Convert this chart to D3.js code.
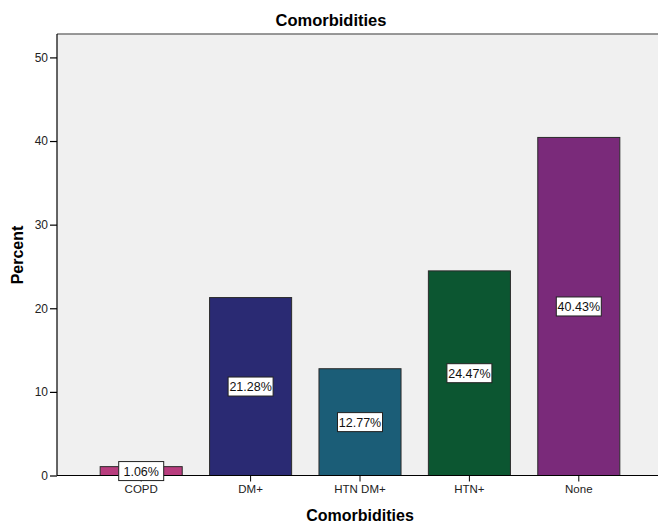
<!DOCTYPE html>
<html>
<head>
<meta charset="utf-8">
<script src="https://cdn.jsdelivr.net/npm/d3@7"></script>
<style>
  html, body { margin: 0; padding: 0; background: #fff; }
  svg { display: block; font-family: "Liberation Sans", Arial, sans-serif; }
</style>
</head>
<body>
<svg id="chart" width="658" height="525"></svg>
<script>
// Comorbidity categories and their share of patients (%)
const categories = ["COPD", "DM+", "HTN DM+", "HTN+", "None"];
const percents = [1.06, 21.28, 12.77, 24.47, 40.43];
const barColors = ["#b83d7e", "#2a2a73", "#1b5d77", "#0c5631", "#7a2a7a"];
const yTicks = [0, 10, 20, 30, 40, 50];

const svg = d3.select("#chart");
const plot = { left: 57, right: 658, top: 34, bottom: 475.5 };

const x = d3.scaleBand()
  .domain(categories)
  .range([86.5, 633.5])
  .paddingInner(0.25)
  .paddingOuter(0.125);

const y = d3.scaleLinear()
  .domain([0, 52.8])
  .range([plot.bottom, plot.top]);

// plot background
svg.append("rect")
  .attr("x", plot.left).attr("y", plot.top)
  .attr("width", plot.right - plot.left)
  .attr("height", plot.bottom - plot.top)
  .attr("fill", "#f0f0f0");

// top frame line
svg.append("line")
  .attr("x1", plot.left).attr("x2", plot.right)
  .attr("y1", plot.top).attr("y2", plot.top)
  .attr("stroke", "#777").attr("stroke-width", 1.5);

// bars
svg.append("g").selectAll("rect")
  .data(categories)
  .join("rect")
  .attr("x", d => x(d))
  .attr("width", x.bandwidth())
  .attr("y", (d, i) => y(percents[i]))
  .attr("height", (d, i) => y(0) - y(percents[i]))
  .attr("fill", (d, i) => barColors[i])
  .attr("stroke", "#2b2b2b")
  .attr("stroke-width", 1);

// y axis
const yAxis = svg.append("g")
  .attr("transform", `translate(${plot.left},0)`)
  .call(d3.axisLeft(y).tickValues(yTicks).tickSize(7).tickPadding(2).tickSizeOuter(0));
yAxis.select(".domain").attr("d", `M0,${plot.top}V${plot.bottom}`).attr("stroke", "#000").attr("stroke-width", 1.2);
yAxis.selectAll(".tick line").attr("stroke", "#000").attr("stroke-width", 1.2);
yAxis.selectAll(".tick text").attr("font-size", 12).attr("fill", "#222")
  .attr("font-family", "Liberation Sans, Arial, sans-serif");

// x axis
const xAxis = svg.append("g")
  .attr("transform", `translate(0,${plot.bottom})`)
  .call(d3.axisBottom(x).tickSize(6).tickPadding(3).tickSizeOuter(0));
xAxis.select(".domain").attr("d", `M${plot.left},0H${plot.right}`).attr("stroke", "#000").attr("stroke-width", 1.2);
xAxis.selectAll(".tick line").attr("stroke", "#000");
xAxis.selectAll(".tick text").attr("font-size", 11.5).attr("fill", "#222")
  .attr("font-family", "Liberation Sans, Arial, sans-serif");

// value labels at bar mid-height
const labels = svg.append("g").selectAll("g")
  .data(categories)
  .join("g")
  .attr("transform", (d, i) => `translate(${x(d) + x.bandwidth() / 2},${y(percents[i] / 2)})`);
labels.append("rect")
  .attr("x", -22.5).attr("y", -9.5)
  .attr("width", 45).attr("height", 19)
  .attr("fill", "#fff").attr("stroke", "#222").attr("stroke-width", 1);
labels.append("text")
  .attr("text-anchor", "middle")
  .attr("dy", "0.36em")
  .attr("font-size", 12.5)
  .attr("fill", "#111")
  .text((d, i) => percents[i].toFixed(2) + "%");

// titles
svg.append("text")
  .attr("x", 331).attr("y", 26)
  .attr("text-anchor", "middle")
  .attr("font-size", 16.5).attr("font-weight", "bold")
  .text("Comorbidities");

svg.append("text")
  .attr("x", 360).attr("y", 521)
  .attr("text-anchor", "middle")
  .attr("font-size", 16).attr("font-weight", "bold")
  .text("Comorbidities");

svg.append("text")
  .attr("transform", "translate(23,255) rotate(-90)")
  .attr("text-anchor", "middle")
  .attr("font-size", 16).attr("font-weight", "bold")
  .text("Percent");
</script>
</body>
</html>
